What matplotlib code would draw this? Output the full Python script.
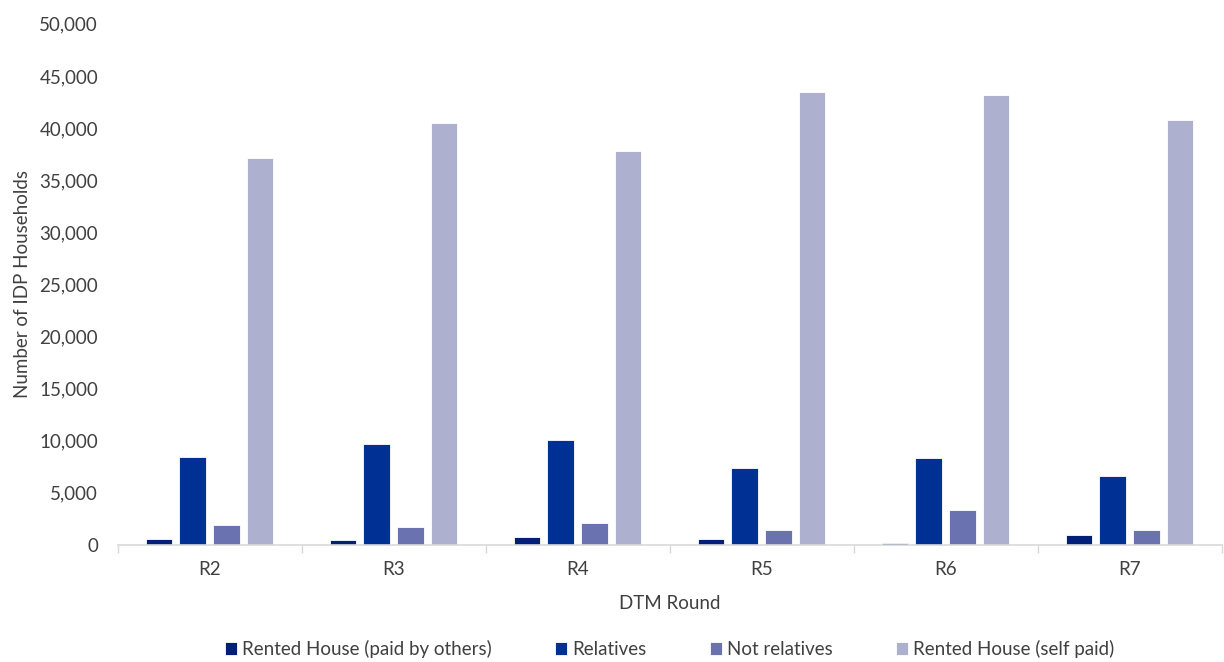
import matplotlib
matplotlib.use("Agg")
from matplotlib import pyplot as plt
from matplotlib.ticker import FuncFormatter
import numpy as np

rounds = ["R2", "R3", "R4", "R5", "R6", "R7"]
paid_by_others = [580, 480, 740, 580, 160, 930]
relatives = [8440, 9660, 10050, 7420, 8320, 6560]
not_relatives = [1920, 1700, 2080, 1440, 3360, 1440]
self_paid = [37140, 40500, 37810, 43470, 43190, 40790]

series = [
    ("Rented House (paid by others)", paid_by_others, "#001f78"),
    ("Relatives", relatives, "#003094"),
    ("Not relatives", not_relatives, "#6a72b0"),
    ("Rented House (self paid)", self_paid, "#adb0cf"),
]

plt.rcParams['font.family'] = ['Lato', 'DejaVu Sans']

fig = plt.figure(figsize=(12.24, 6.62), dpi=100)
ax = fig.add_axes([0.096, 0.177, 0.902, 0.787])

x = np.arange(len(rounds))
bar_w = 0.145
step = 0.183
for i, (name, vals, color) in enumerate(series):
    ax.bar(x + (i - 1.5) * step, vals, width=bar_w, color=color,
           edgecolor="white", linewidth=0.6, label=name)

ax.set_xlim(-0.5, len(rounds) - 0.5)
ax.set_ylim(0, 50000)
ax.set_yticks(np.arange(0, 50001, 5000))
ax.yaxis.set_major_formatter(FuncFormatter(lambda v, p: f"{int(v):,}"))
ax.set_xticks(x)
ax.set_xticklabels(rounds)
ax.set_xticks(np.arange(-0.5, len(rounds)), minor=True)
ax.tick_params(axis="x", which="major", length=0, pad=12, labelsize=13.5, colors="#404040")
ax.tick_params(axis="x", which="minor", length=6, color="#d9d9d9", width=1)
ax.tick_params(axis="y", length=0, labelsize=13.5, colors="#404040", pad=14)

for s in ["top", "right", "left"]:
    ax.spines[s].set_visible(False)
ax.spines["bottom"].set_color("#d9d9d9")
ax.spines["bottom"].set_linewidth(1.2)

ax.set_xlabel("DTM Round", fontsize=13.5, color="#404040", labelpad=12)
ax.set_ylabel("Number of IDP Households", fontsize=13.5, color="#404040", labelpad=6)

ax.legend(loc="upper center", bbox_to_anchor=(0.5, -0.15), ncol=4, frameon=False,
          fontsize=13.5, handlelength=0.65, handleheight=0.7, handletextpad=0.25,
          columnspacing=3.4, labelcolor="#404040")

fig.savefig("out.png", dpi=100)
